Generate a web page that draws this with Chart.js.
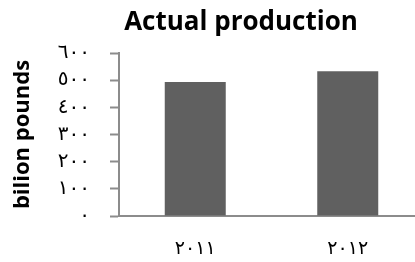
<!DOCTYPE html>
<html>
<head>
<meta charset="utf-8">
<script src="https://cdn.jsdelivr.net/npm/chart.js@4/dist/chart.umd.min.js"></script>
<style>
  html, body { margin: 0; padding: 0; background: #fff; overflow: hidden; }
  #wrap { width: 424px; height: 262px; }
</style>
</head>
<body>
<div id="wrap"><canvas id="chart" width="424" height="262"></canvas></div>
<script>
const years = ["٢٠١١", "٢٠١٢"];
const production = [493, 533];
const yTickLabels = ["٠", "١٠٠", "٢٠٠", "٣٠٠", "٤٠٠", "٥٠٠", "٦٠٠"];
const chartTitle = "Actual production";

const axisGrey = "#8c8c8c";

// title sits off-centre in the original, so draw it by hand
const titlePlugin = {
  id: "offsetTitle",
  afterDraw(chart) {
    const ctx = chart.ctx;
    ctx.save();
    ctx.font = "bold 26px 'Open Sans'";
    ctx.fillStyle = "#000";
    ctx.textAlign = "center";
    ctx.textBaseline = "alphabetic";
    ctx.fillText(chartTitle, 241, 30);
    ctx.restore();
  }
};

new Chart(document.getElementById("chart"), {
  type: "bar",
  data: {
    labels: years,
    datasets: [{
      label: chartTitle,
      data: production,
      backgroundColor: "#606060",
      borderWidth: 0,
      barPercentage: 0.4,
      categoryPercentage: 1
    }]
  },
  options: {
    responsive: false,
    animation: false,
    layout: { padding: { top: 53 } },
    plugins: {
      legend: { display: false },
      tooltip: { enabled: false },
      title: { display: false }
    },
    scales: {
      x: {
        grid: { display: false, drawTicks: false },
        border: { display: true, color: axisGrey, width: 2 },
        ticks: {
          color: "#000",
          font: { family: "DejaVu Serif, DejaVu Sans", size: 19 },
          padding: 22
        },
        afterFit: s => { s.height = 46; }
      },
      y: {
        min: 0,
        max: 600,
        grid: { drawOnChartArea: false, drawTicks: true, tickLength: 9, color: axisGrey, tickWidth: 2 },
        border: { display: true, color: axisGrey, width: 2 },
        ticks: {
          stepSize: 100,
          color: "#000",
          font: { family: "DejaVu Serif, DejaVu Sans", size: 20 },
          padding: 20,
          callback: (v, i) => yTickLabels[i]
        },
        title: {
          display: true,
          text: "bilion pounds",
          color: "#000",
          font: { family: "Open Sans", size: 22, weight: "bold" },
          padding: { top: 10, bottom: 0 }
        },
        afterFit: s => { s.width = 119; }
      }
    }
  },
  plugins: [titlePlugin]
});
</script>
</body>
</html>
